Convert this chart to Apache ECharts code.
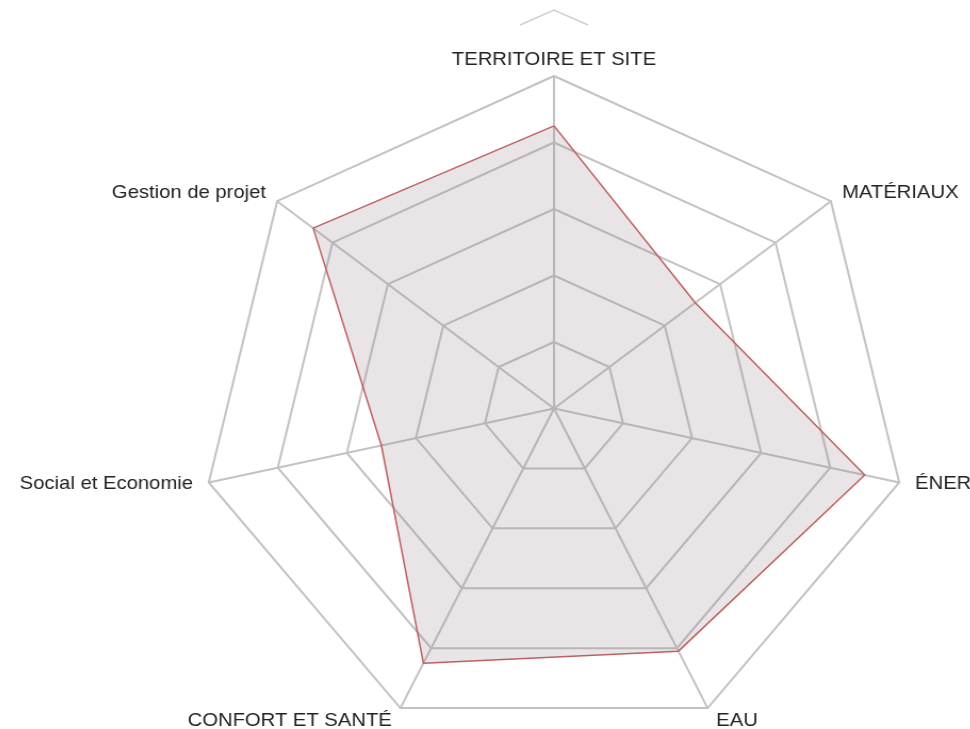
<!DOCTYPE html>
<html>
<head>
<meta charset="utf-8">
<script src="https://cdn.jsdelivr.net/npm/echarts@6/dist/echarts.min.js"></script>
<style>
  html, body { margin: 0; padding: 0; background: #fff; overflow: hidden; }
  #wrap { width: 970px; height: 729px; overflow: hidden; }
  /* the source picture is stretched a little horizontally */
  #chart { width: 970px; height: 729px; transform: scaleX(1.065); transform-origin: 554px 0; }
</style>
</head>
<body>
<div id="wrap"><div id="chart"></div></div>
<script>
// axes listed counter-clockwise from the top (ECharts radar order)
const axisNames = ["TERRITOIRE ET SITE", "Gestion de projet", "Social et Economie", "CONFORT ET SANTÉ", "EAU", "ÉNERGIE", "MATÉRIAUX"]
const axisMax = 100
const scores = [85, 87, 50, 85, 81, 90, 51]

// label placement tweak per axis position: top, upper, side, bottom
const labelPos = ["t", "u", "s", "b", "b", "s", "u"]

const chart = echarts.init(document.getElementById("chart"))

const txt = { color: "#222", fontFamily: "Liberation Sans", fontSize: 19 }

const options = {
	animation: false,
	radar: {
		center: [554, 408.5],
		radius: 332.5,
		startAngle: 90,
		shape: "polygon",
		splitNumber: 5,
		indicator: axisNames.map((n) => ({ name: n, max: axisMax })),
		axisName: {
			...txt,
			formatter: (name) => "{" + labelPos[axisNames.indexOf(name)] + "|" + name + "}",
			rich: {
				t: { ...txt, padding: [0, 0, 0, 0] },
				u: { ...txt, padding: [0, 5, 9, 5] },
				s: { ...txt, padding: [0, 8, 0, 8] },
				b: { ...txt, padding: [12, 5, 0, 5] },
			},
		},
		nameGap: 7,
		axisLine: { lineStyle: { color: "#c2c2c2", width: 2 } },
		splitLine: { lineStyle: { color: "#c2c2c2", width: 2 } },
		splitArea: { show: false },
	},
	graphic: [
		{
			type: "polyline",
			shape: { points: [[522, 25], [554, 10], [586, 25]] },
			style: { stroke: "#cfcfcf", lineWidth: 1.5, fill: null },
		},
	],
	series: [
		{
			type: "radar",
			symbol: "none",
			lineStyle: { color: "#c25d5d", width: 1.5 },
			areaStyle: { color: "rgba(150, 128, 130, 0.3)" },
			data: [{ value: scores }],
		},
	],
}

chart.setOption(options)
</script>
</body>
</html>
